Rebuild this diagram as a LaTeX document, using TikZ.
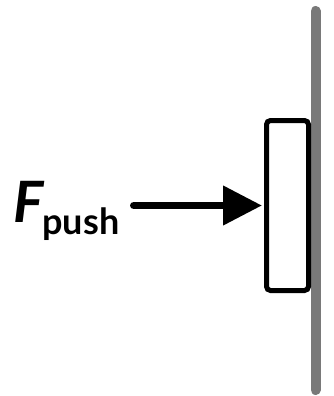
\documentclass[tikz,border=0pt]{standalone}
\usepackage{fontspec}
\setmainfont{Lato}
\usetikzlibrary{positioning,calc,arrows.meta}

\tikzset{
  wallline/.style={line width=10pt, color=gray!95!black!100, line cap=round},
  blockbox/.style={draw, fill=white, line width=5pt, rounded corners=4pt,
    minimum width=42pt, minimum height=170pt, inner sep=0pt},
  pusharrow/.style={line width=7.5pt, line cap=round,
    -{Triangle[length=39pt,width=38pt]}},
  forcelabel/.style={inner sep=0pt, anchor=base west}
}

\begin{document}
\begin{tikzpicture}[x=1pt,y=-1pt]
    \useasboundingbox (0,0) rectangle (334,396);
    % Wall
    \coordinate (walltop) at (315.5,11);
    \coordinate (wallbot) at (315.5,390);
    \draw [wallline] (walltop) -- (wallbot);
    % Block
    \node [blockbox] (block) at (287.5,205.5) {};
    % Label
    \node [forcelabel] (fpush) at (13,222.7)
      {\fontsize{57}{57}\selectfont\bfseries\itshape F\hspace{-1pt}\raisebox{-11.3pt}{\fontsize{36}{36}\selectfont\upshape push}};
    % Push
    \coordinate (pushstart) at (133.75,205.5);
    \draw [pusharrow, shorten >=2pt] (pushstart) -- (block.west);
\end{tikzpicture}
\end{document}
